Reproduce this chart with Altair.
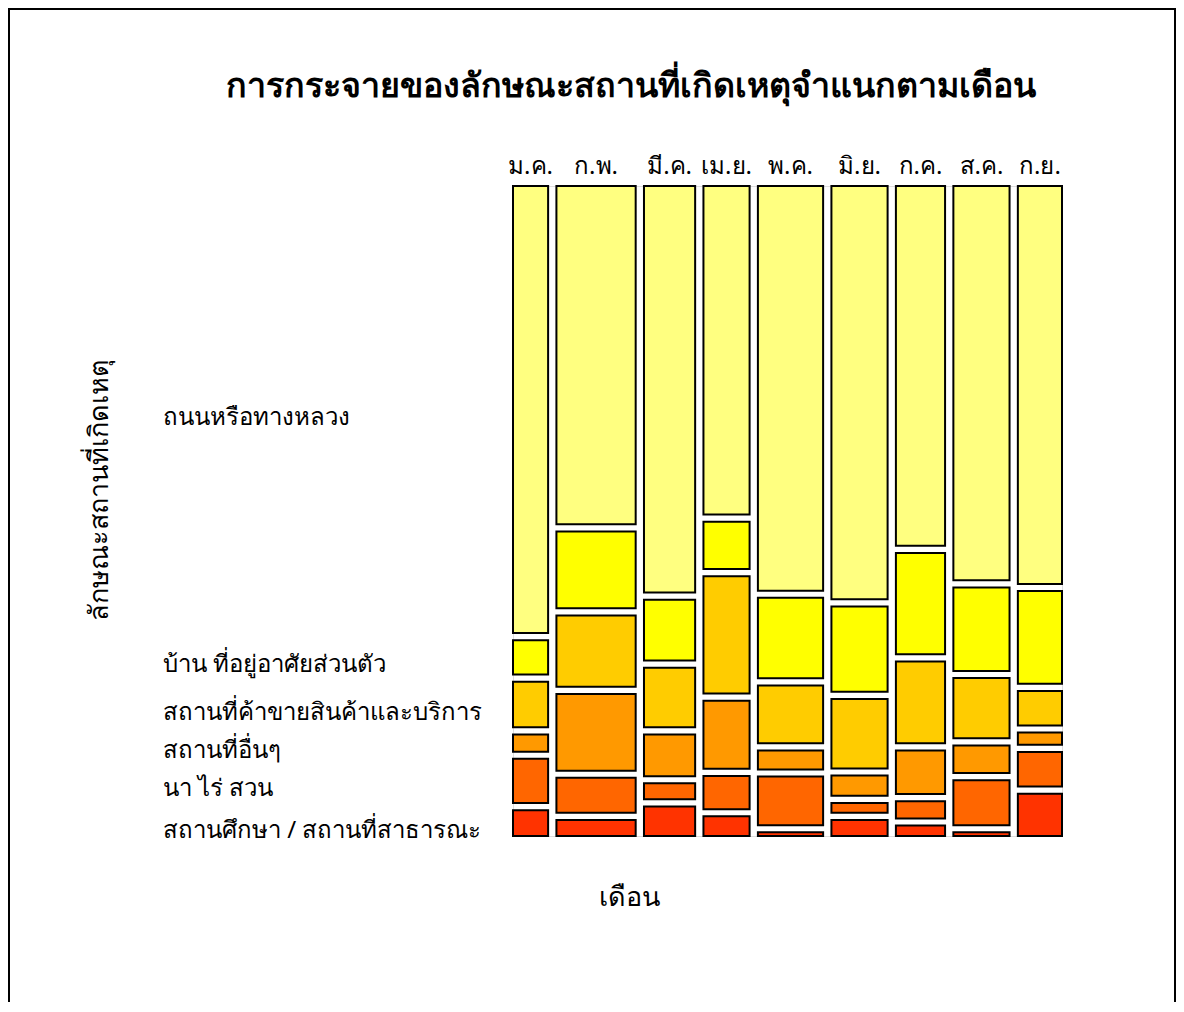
import altair as alt
import pandas as pd

months = ["ม.ค.", "ก.พ.", "มี.ค.", "เม.ย.", "พ.ค.", "มิ.ย.", "ก.ค.", "ส.ค.", "ก.ย."]
month_sizes = [35, 79, 51, 46, 65, 56, 49, 56, 44]

# categories listed bottom -> top
categories = [
    "สถานศึกษา / สถานที่สาธารณะ",
    "นา ไร่ สวน",
    "สถานที่อื่นๆ",
    "สถานที่ค้าขายสินค้าและบริการ",
    "บ้าน ที่อยู่อาศัยส่วนตัว",
    "ถนนหรือทางหลวง",
]
colors = ["#FF3300", "#FF6600", "#FF9900", "#FFCC00", "#FFFF00", "#FFFF80"]

school = [4.2, 2.6, 4.8, 3.2, 0.6, 2.6, 1.7, 0.6, 6.9]
farm = [7.2, 5.7, 2.6, 5.4, 7.9, 1.6, 2.8, 7.3, 5.6]
other = [2.8, 12.5, 6.8, 11.1, 3.1, 3.3, 7.1, 4.5, 2.0]
trade = [7.4, 11.6, 9.7, 19.1, 9.4, 11.3, 13.3, 9.8, 5.6]
home = [5.6, 12.5, 9.9, 7.7, 13.1, 13.9, 16.5, 13.6, 15.1]
road = [72.8, 55.1, 66.2, 53.5, 65.9, 67.3, 58.6, 64.2, 64.8]
series = [school, farm, other, trade, home, road]

title_text = "การกระจายของลักษณะสถานที่เกิดเหตุจำแนกตามเดือน"
x_title = "เดือน"
y_title = "ลักษณะสถานที่เกิดเหตุ"

FONT = "Tahoma, Noto Sans, sans-serif"

# ---- mosaic geometry in data units ----
total_w = sum(month_sizes)
xgap = 0.0172 * total_w
ygap = 0.0117
rows = []
month_rows = []
x0 = 0.0
for i, m in enumerate(months):
    w = month_sizes[i]
    y0 = 0.0
    for j, c in enumerate(categories):
        h = series[j][i] / 100.0
        rows.append({"month": m, "cat": c, "x": x0, "x2": x0 + w,
                     "y": y0, "y2": y0 + h, "yc": y0 + h / 2, "first": i == 0})
        y0 += h + ygap
    month_rows.append({"month": m, "xc": x0 + w / 2})
    x0 += w + xgap
x_max = x0 - xgap
y_max = 1 + ygap * (len(categories) - 1)

tiles = pd.DataFrame(rows)
mdf = pd.DataFrame(month_rows)
labels = tiles[tiles["first"]].copy()

xs = alt.Scale(domain=[0, x_max], nice=False, zero=False)
ys = alt.Scale(domain=[0, y_max], nice=False, zero=False)

# view origin on the page
OX, OY = 513, 186

rect = alt.Chart(tiles).mark_rect(stroke="#000000", strokeWidth=2).encode(
    x=alt.X("x:Q", scale=xs, axis=None),
    x2="x2:Q",
    y=alt.Y("y:Q", scale=ys, axis=None),
    y2="y2:Q",
    color=alt.Color("cat:N", scale=alt.Scale(domain=categories, range=colors), legend=None),
)

month_text = alt.Chart(mdf).mark_text(fontSize=24, font=FONT, baseline="middle", align="center", color="black").encode(
    x=alt.X("xc:Q", scale=xs, axis=None),
    y=alt.value(167 - OY),
    text="month:N",
)

cat_text = alt.Chart(labels).mark_text(fontSize=24, font=FONT, baseline="middle", align="left", dy=8, color="black").encode(
    x=alt.value(163 - OX),
    y=alt.Y("yc:Q", scale=ys, axis=None),
    text="cat:N",
)

deco = pd.DataFrame({"t": [title_text]})
title = alt.Chart(deco).mark_text(fontSize=34, font=FONT, fontWeight="bold", align="center", baseline="middle", color="black").encode(
    x=alt.value(631 - OX), y=alt.value(87 - OY), text="t:N")

xt = alt.Chart(pd.DataFrame({"t": [x_title]})).mark_text(fontSize=27, font=FONT, align="center", baseline="middle", color="black").encode(
    x=alt.value(629 - OX), y=alt.value(898 - OY), text="t:N")

yt = alt.Chart(pd.DataFrame({"t": [y_title]})).mark_text(fontSize=27, font=FONT, align="center", baseline="middle", angle=270, color="black").encode(
    x=alt.value(100 - OX), y=alt.value(490 - OY), text="t:N")

frame = alt.Chart(pd.DataFrame({"t": [1]})).mark_rect(fill=None, stroke="black", strokeWidth=2, fillOpacity=0).encode(
    x=alt.value(9 - OX), x2=alt.value(1175 - OX), y=alt.value(9 - OY), y2=alt.value(1100 - OY))

W, H = 549, 650
PL, PT = OX - 8, OY - 8
TOTAL_W, TOTAL_H = 1168, 994

chart = alt.layer(frame, rect, month_text, cat_text, title, xt, yt).properties(
    width=W, height=H,
    padding={"left": PL, "top": PT, "right": TOTAL_W - PL - W, "bottom": TOTAL_H - PT - H},
    autosize=alt.AutoSizeParams(type="none"),
).configure_view(stroke=None).configure(background="white")

chart.save("out.html", embed_options={"renderer": "svg", "actions": False})
